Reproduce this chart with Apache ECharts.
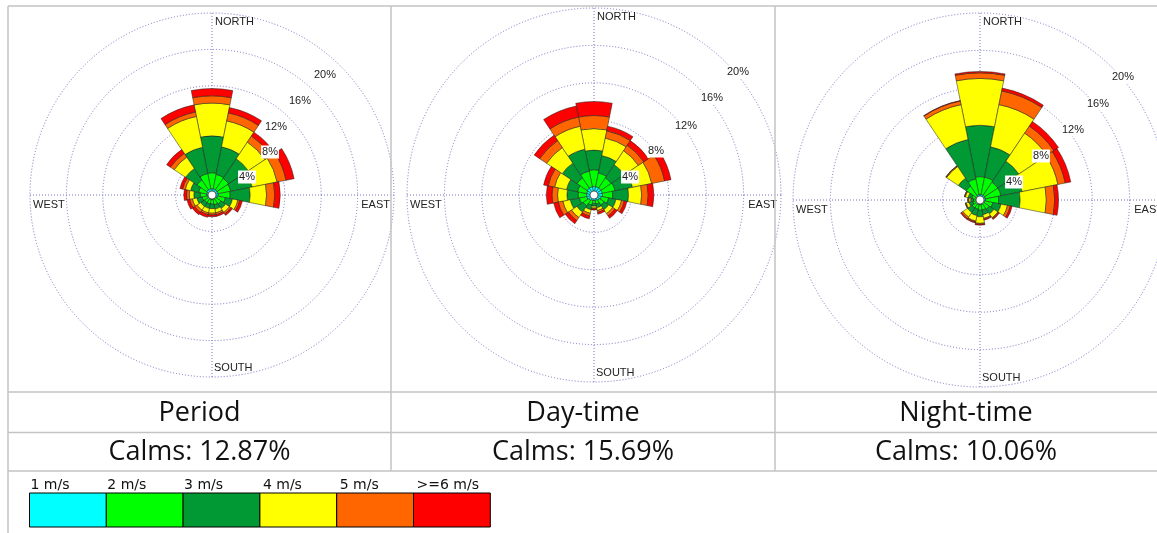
<!DOCTYPE html>
<html><head><meta charset="utf-8">
<script src="https://cdn.jsdelivr.net/npm/echarts@6/dist/echarts.min.js"></script>
<style>html,body{margin:0;padding:0;background:#fff}#c{width:1157px;height:533px}</style>
</head><body><div id="c"></div>
<script>
// ---------------- data ----------------
const directions = ['N','NNE','NE','ENE','E','ESE','SE','SSE','S','SSW','SW','WSW','W','WNW','NW','NNW'];
const speedClasses = ['1 m/s','2 m/s','3 m/s','4 m/s','5 m/s','>=6 m/s'];
const classColors = ['#00ffff','#00ff00','#009933','#ffff00','#ff6600','#ff0000'];
const panelTitles = ['Period','Day-time','Night-time'];
const calmTexts = ['Calms: 12.87%','Calms: 15.69%','Calms: 10.06%'];
const ringTicks = [4, 8, 12, 16, 20];
const ringLabels = ['4%','8%','12%','16%','20%'];
const compassLabels = ['NORTH','EAST','SOUTH','WEST'];

// frequency (%) per speed class, per direction (N .. NNW clockwise)
const period1 = [0.7,0.7,0.7,0.7,0.7,0.6,0.5,0.5,0.5,0.5,0.5,0.5,0.6,0.6,0.7,0.7];
const period2 = [1.75,1.6,1.5,1.4,1.3,0.9,0.7,0.6,0.5,0.5,0.5,0.6,0.7,0.9,1.3,1.7];
const period3 = [4.05,3.1,2.6,2.4,2.2,0.8,0.6,0.5,0.5,0.5,0.5,0.6,0.7,0.9,1.5,2.95];
const period4 = [3.6,2.9,2.2,2.8,1.8,0.6,0.5,0.4,0.5,0.5,0.5,0.5,0.5,0.6,1.5,3.45];
const period5 = [0.8,0.9,0.8,1.0,0.9,0.2,0.2,0.2,0.2,0.2,0.3,0.3,0.3,0.3,0.5,0.5];
const period6 = [0.8,0.6,0.5,0.9,0.6,0.3,0.2,0.2,0.2,0.3,0.3,0.3,0.3,0.3,0.5,0.8];

const day1 = [0.9,0.9,0.9,0.9,0.9,0.8,0.7,0.6,0.6,0.6,0.7,0.8,0.8,0.8,0.9,0.9];
const day2 = [1.8,1.5,1.3,1.4,1.1,0.8,0.6,0.4,0.3,0.5,0.7,0.8,0.9,1.0,1.3,1.7];
const day3 = [2.1,1.9,1.7,1.9,1.7,0.8,0.6,0.4,0.3,0.5,0.8,1.0,1.2,1.2,1.9,2.4];
const day4 = [2.3,1.9,1.8,2.1,1.4,0.6,0.5,0.3,0.2,0.4,0.7,0.8,1.0,1.3,2.0,2.5];
const day5 = [1.4,0.8,0.7,1.4,0.7,0.3,0.3,0.2,0.1,0.3,0.4,0.5,0.6,0.7,0.9,1.0];
const day6 = [1.5,0.5,0.6,0.7,0.6,0.3,0.3,0.2,0.1,0.3,0.4,0.5,0.6,0.5,0.7,1.2];

const night1 = [0.6,0.6,0.6,0.6,0.6,0.5,0.5,0.5,0.5,0.5,0.5,0.4,0.4,0.4,0.5,0.6];
const night2 = [1.9,1.9,1.7,1.7,1.4,0.9,0.7,0.6,0.6,0.5,0.5,0.4,0.3,0.5,1.3,1.7];
const night3 = [5.5,3.3,2.7,2.3,2.3,0.9,0.6,0.5,0.7,0.7,0.6,0.4,0.3,0.4,1.0,4.3];
const night4 = [5.0,4.6,3.6,3.9,2.8,0.7,0.5,0.4,0.7,0.6,0.6,0.3,0.2,0.3,1.5,3.8];
const night5 = [0.6,1.5,0.9,0.8,0.9,0.3,0.1,0.1,0.1,0.1,0.2,0.1,0.1,0.1,0.1,0.4];
const night6 = [0.15,0.3,0.6,0.6,0.4,0.2,0.1,0.1,0.1,0.1,0.1,0,0,0,0,0.05];

const panelData = [
  [period1, period2, period3, period4, period5, period6],
  [day1, day2, day3, day4, day5, day6],
  [night1, night2, night3, night4, night5, night6]
];

// ---------------- layout ----------------
const panels = [
  {cx: 212, cy: 195, r: 182, col: [8, 391]},
  {cx: 594, cy: 195, r: 187, col: [391, 775]},
  {cx: 980, cy: 200, r: 187, col: [775, 1157]}
];
// ring-label centre offsets from rose centre
const ringLabelOffsets = [
  [[35,-18],[58,-43],[64,-68],[88,-94],[113,-120]],
  [[36,-18],[62,-44],[92,-69],[118,-97],[144,-123]],
  [[34,-18],[61,-44],[93,-70],[118,-96],[143,-123]]
];
const gridColor = '#7474c4';
const frameColor = '#c3c3c3';
const smallFont = '11px "Liberation Sans", Arial, sans-serif';

const polar = [], angleAxis = [], radiusAxis = [], series = [], graphic = [];
const hidden = {show: false};

panels.forEach((p, i) => {
  polar.push({center: [p.cx, p.cy], radius: p.r});   // bars
  polar.push({center: [p.cx, p.cy], radius: p.r});   // grid
  angleAxis.push({
    polarIndex: 2 * i, type: 'category', data: directions, boundaryGap: true,
    startAngle: 90 + 360 / directions.length / 2, clockwise: true,
    axisLine: hidden, axisTick: hidden, axisLabel: hidden, splitLine: hidden
  });
  angleAxis.push({
    polarIndex: 2 * i + 1, type: 'value', min: 0, max: 360, interval: 90,
    startAngle: 90, clockwise: true,
    axisLine: hidden, axisTick: hidden, axisLabel: hidden,
    splitLine: {show: true, lineStyle: {color: gridColor, width: 1, type: [1, 2]}}
  });
  radiusAxis.push({
    polarIndex: 2 * i, type: 'value', min: 0, max: ringTicks[ringTicks.length - 1],
    axisLine: hidden, axisTick: hidden, axisLabel: hidden, splitLine: hidden
  });
  radiusAxis.push({
    polarIndex: 2 * i + 1, type: 'value', min: 0, max: ringTicks[ringTicks.length - 1],
    interval: ringTicks[0],
    axisLine: hidden, axisTick: hidden, axisLabel: hidden,
    splitLine: {show: true, lineStyle: {color: gridColor, width: 1, type: [1, 2]}}
  });
  panelData[i].forEach((arr, k) => {
    series.push({
      type: 'bar', coordinateSystem: 'polar', polarIndex: 2 * i,
      name: speedClasses[k], stack: 'rose' + i, data: arr,
      barCategoryGap: '0%', silent: true,
      itemStyle: {color: classColors[k], borderColor: '#1e1e1e', borderWidth: 0.5}
    });
  });

  graphic.push({type: 'circle', z: 60, shape: {cx: p.cx, cy: p.cy, r: 4},
    style: {fill: '#fff', stroke: '#333', lineWidth: 0.7}});
  graphic.push({type: 'text', z: 60, style: {text: compassLabels[0], x: p.cx + 3, y: p.cy - p.r + 9,
    font: smallFont, fill: '#222', align: 'left', verticalAlign: 'middle'}});
  graphic.push({type: 'text', z: 60, style: {text: compassLabels[1], x: p.cx + p.r - 4, y: p.cy + 10,
    font: smallFont, fill: '#222', align: 'right', verticalAlign: 'middle'}});
  graphic.push({type: 'text', z: 60, style: {text: compassLabels[2], x: p.cx + 2, y: p.cy + p.r - 9,
    font: smallFont, fill: '#222', align: 'left', verticalAlign: 'middle'}});
  graphic.push({type: 'text', z: 60, style: {text: compassLabels[3], x: p.cx - p.r + 3, y: p.cy + 10,
    font: smallFont, fill: '#222', align: 'left', verticalAlign: 'middle'}});
  ringLabels.forEach((t, j) => {
    const o = ringLabelOffsets[i][j];
    graphic.push({type: 'text', z: 60, style: {text: t, x: p.cx + o[0], y: p.cy + o[1],
      font: smallFont, fill: '#222', align: 'center', verticalAlign: 'middle',
      backgroundColor: '#fff', padding: [1, 1]}});
  });
  const mid = (p.col[0] + p.col[1]) / 2;
  graphic.push({type: 'text', z: 60, style: {text: panelTitles[i], x: mid, y: 413,
    font: '27px "Open Sans", sans-serif', fill: '#111', align: 'center', verticalAlign: 'middle'}});
  graphic.push({type: 'text', z: 60, style: {text: calmTexts[i], x: mid, y: 452,
    font: '27px "Open Sans", sans-serif', fill: '#111', align: 'center', verticalAlign: 'middle'}});
});

function hline(y, x1, x2) {
  graphic.push({type: 'line', z: 70, shape: {x1: x1, y1: y, x2: x2, y2: y},
    style: {stroke: frameColor, lineWidth: 1.5}});
}
function vline(x, y1, y2) {
  graphic.push({type: 'line', z: 70, shape: {x1: x, y1: y1, x2: x, y2: y2},
    style: {stroke: frameColor, lineWidth: 1.5}});
}
hline(6, 8, 1157);
hline(392, 8, 1157);
hline(432.5, 8, 1157);
hline(471, 8, 1157);
vline(8, 6, 533);
vline(391, 6, 471);
vline(775, 6, 471);

const legX = 29.5, legW = 76.8, legY = 493, legH = 34;
speedClasses.forEach((s, k) => {
  graphic.push({type: 'rect', z: 60, shape: {x: legX + k * legW, y: legY, width: legW, height: legH},
    style: {fill: classColors[k], stroke: '#000', lineWidth: 1}});
  graphic.push({type: 'text', z: 60, style: {text: s, x: legX + k * legW + 1 + (k >= 3 ? 2 : 0), y: 485,
    font: '14px "DejaVu Sans", sans-serif', fill: '#111', align: 'left', verticalAlign: 'middle'}});
});

const chart = echarts.init(document.getElementById('c'), null, {renderer: 'canvas'});
chart.setOption({
  animation: false,
  backgroundColor: '#fff',
  polar: polar,
  angleAxis: angleAxis,
  radiusAxis: radiusAxis,
  series: series,
  graphic: graphic
});
</script>
</body></html>
